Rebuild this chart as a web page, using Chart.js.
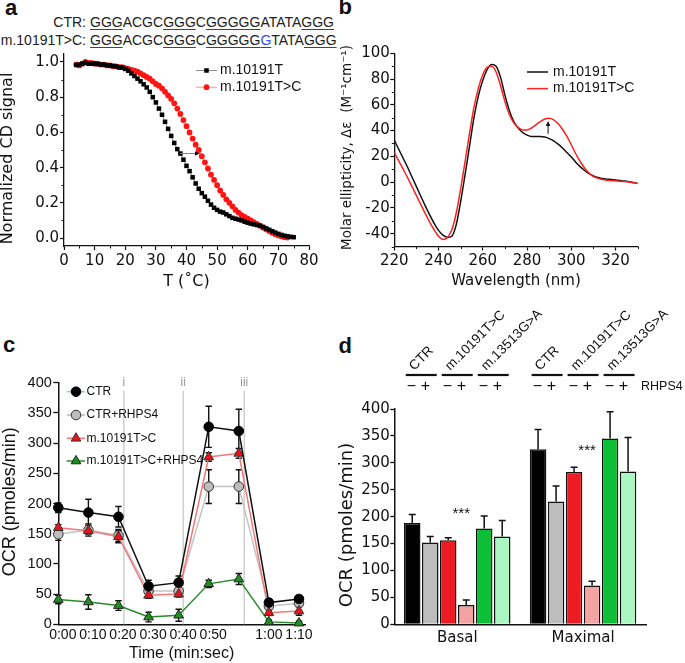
<!DOCTYPE html>
<html><head><meta charset="utf-8">
<script src="https://cdn.jsdelivr.net/npm/chart.js@4.4.1/dist/chart.umd.min.js"></script>
<style>
html,body{margin:0;padding:0;background:#fff;}
body{width:685px;height:663px;position:relative;overflow:hidden;font-family:'Liberation Sans',Arial,sans-serif;color:#111;}
canvas{position:absolute;}
.lbl{position:absolute;font-weight:bold;font-size:22px;line-height:22px;font-family:'Liberation Sans',Arial,sans-serif;}
.seq{position:absolute;font-size:14px;line-height:14px;white-space:nowrap;color:#222;}
.u{text-decoration:underline;text-decoration-thickness:1px;text-underline-offset:1.5px;text-decoration-color:#444;}
.blue{color:#2f4cff;}
</style></head>
<body>
<div class="lbl" style="left:5px;top:-2.6px">a</div>
<div class="lbl" style="left:338.5px;top:-3.6px">b</div>
<div class="lbl" style="left:3px;top:334.4px">c</div>
<div class="lbl" style="left:338.5px;top:334.7px">d</div>
<div class="seq" style="left:0;top:15.4px;width:86px;text-align:right">CTR:</div>
<div class="seq" style="left:90px;top:15.4px"><span class="u">GGG</span>ACGC<span class="u">GGG</span>C<span class="u">GGGGG</span>ATATA<span class="u">GGG</span></div>
<div class="seq" style="left:0;top:33.2px;width:86px;text-align:right">m.10191T&gt;C:</div>
<div class="seq" style="left:90px;top:33.2px"><span class="u">GGG</span>ACGC<span class="u">GGG</span>C<span class="u">GGGGG<span class="blue">G</span></span>TATA<span class="u">GGG</span></div>

<canvas id="ca" width="340" height="250" style="left:0;top:50px"></canvas>
<canvas id="cb" width="345" height="300" style="left:340px;top:0"></canvas>
<canvas id="cc" width="340" height="333" style="left:0;top:330px"></canvas>
<canvas id="cd" width="350" height="363" style="left:335px;top:300px"></canvas>

<script>
// ===== DATA =====
// Panel a: CD melting
const aTempBlack = [4,5,6,7,8,9,10,11,12,13,14,15,16,17,18,19,20,21,22,23,24,25,26,27,28,29,30,31,32,33,34,35,36,37,38,39,40,41,42,43,44,45,46,47,48,49,50,51,52,53,54,55,56,57,58,59,60,61,62,63,64,65,66,67,68,69,70,71,72,73,74,75];
const aSignalBlack = [0.983,0.985,0.99,0.995,0.99,0.99,0.99,0.988,0.985,0.985,
  0.982,0.98,0.977,0.975,0.97,0.967,0.96,0.95,0.935,0.92,
  0.905,0.89,0.873,0.855,0.83,0.80,0.77,0.735,0.70,0.66,
  0.62,0.58,0.54,0.505,0.48,0.445,0.41,0.38,0.345,0.31,
  0.28,0.255,0.235,0.212,0.19,0.172,0.16,0.15,0.145,0.135,
  0.125,0.115,0.11,0.105,0.10,0.093,0.087,0.082,0.078,0.074,
  0.07,0.063,0.055,0.047,0.039,0.031,0.024,0.018,0.013,0.01,
  0.007,0.005];
const aTempRed = [4,5,6,7,8,9,10,11,12,13,14,15,16,17,18,19,20,21,22,23,24,25,26,27,28,29,30,31,32,33,34,35,36,37,38,39,40,41,42,43,44,45,46,47,48,49,50,51,52,53,54,55,56,57,58,59,60,61,62,63,64,65,66,67,68,69,70,71,72,73];
const aSignalRed = [0.985,0.98,0.99,1.0,0.995,0.995,0.99,0.99,0.985,0.985,
  0.98,0.98,0.975,0.975,0.97,0.97,0.965,0.96,0.955,0.95,
  0.945,0.935,0.925,0.915,0.905,0.89,0.875,0.865,0.85,0.83,
  0.81,0.79,0.765,0.735,0.705,0.67,0.635,0.60,0.565,0.53,
  0.50,0.465,0.43,0.395,0.36,0.33,0.30,0.27,0.245,0.22,
  0.20,0.18,0.16,0.145,0.13,0.12,0.11,0.10,0.09,0.08,
  0.07,0.06,0.05,0.04,0.03,0.022,0.015,0.01,0.005,0.003];
const aXTicks = [0,10,20,30,40,50,60,70,80];
const aXMinor = [5,15,25,35,45,55,65,75];
const aYTicks = [0,0.2,0.4,0.6,0.8,1.0];
const aYMinor = [0.1,0.3,0.5,0.7,0.9];
const aArrow = {from:[37.9,0.48], to:[44.4,0.48]};

// Panel b: CD spectra
const bWavelength = [220,222,224,226,228,230,232,234,236,238,240,242,244,246,248,250,252,254,256,258,260,262,264,266,268,270,272,274,276,278,280,282,284,286,288,290,292,294,296,298,300,302,304,306,308,310,312,314,316,318,320,322,324,326,328,330];
const bBlack = [32.5,25.5,18.5,11.5,4,-3.5,-11,-18.5,-25.5,-32,-37.5,-41.2,-43,-42,-33,-15,6,28,50,67,79,87.5,91.3,90,81.5,67.5,55.5,47,42,38.5,36.5,35.5,35.5,35.5,35,33.8,32,29.5,26.5,23,19.5,15.5,12,9,6.5,4.8,3.5,2.8,2.3,2,1.6,1.2,0.8,0.3,-0.3,-1];
const bRed = [23,16.5,10,3.5,-3.5,-10.5,-17.5,-24.5,-31,-37,-42,-44.5,-43,-37,-24,-5,16,38,58,73,83.5,89.3,90,85.5,75,62.5,52.5,46,42.5,40.5,40.5,42,44.5,47,49,49.5,48.3,45.5,41,35.5,29,22,16,11,7,4.3,3,2,1.5,1.1,0.9,0.7,0.4,0,-0.5,-1];
const bXTicks = [220,240,260,280,300,320];
const bXMinor = [230,250,270,290,310,330];
const bYTicks = [-40,-20,0,20,40,60,80,100];
const bYMinor = [-50,-30,-10,10,30,50,70,90];
const bArrow = {from:[289.5,37.5], to:[289.5,47.5]};

// Panel c: OCR time course
const cMeasure = [0,1,2,3,4,5,6,7,8];
const cCTR      = [193,185,178,63,69,327,320,36,42];
const cCTRerr   = [8,22,17,10,11,34,36,5,5];
const cCTRR     = [149,156,147,55,55,228,228,30,35];
const cCTRRerr  = [10,10,10,5,5,28,28,4,5];
const cTC       = [160,155,145,48,50,277,283,19,22];
const cTCerr    = [5,6,10,5,5,7,8,4,7];
const cTCR      = [41,37,31,12,15,67,75,4,2];
const cTCRerr   = [7,12,8,8,10,6,9,3,3];
const cTickPos    = [0.15,1.15,2.15,3.15,4.15,5.15,7,8];
const cTickLabels = ['0:00','0:10','0:20','0:30','0:40','0:50','1:00','1:10'];
const cInject = [2.18,4.15,6.18];
const cInjectLabels = ['i','ii','iii'];

// Panel d: OCR bars
const dGroups = ['Basal','Maximal'];
const dCTRminus = [188,325], dCTRminusErr = [16,37];
const dCTRplus  = [152,228], dCTRplusErr  = [11,29];
const dTCminus  = [156,283], dTCminusErr  = [5,9];
const dTCplus   = [36,72],   dTCplusErr   = [9,8];
const dGAminus  = [178,345], dGAminusErr  = [23,50];
const dGAplus   = [163,284], dGAplusErr   = [30,63];
const dHeaderLabels = ['CTR','m.10191T>C','m.13513G>A'];
const dStarValues = [198,314];

// ===== HELPERS =====
const INK = '#111';
const DJ = 'DejaVu Sans';
const LS = 'Liberation Sans';
function marker(ctx, style, r, x, y, fill, stroke, bw) {
  ctx.save(); ctx.fillStyle = fill; ctx.strokeStyle = stroke; ctx.lineWidth = bw;
  if (Chart.helpers && Chart.helpers.drawPoint) {
    Chart.helpers.drawPoint(ctx, {pointStyle: style, radius: r, rotation: 0, borderWidth: bw}, x, y);
  } else { ctx.beginPath(); ctx.arc(x, y, r, 0, Math.PI*2); ctx.fill(); if (bw) ctx.stroke(); }
  ctx.restore();
}
function textPlugin(id, items) {
  return { id, afterDraw(chart) {
    const ctx = chart.ctx;
    items.forEach(it => {
      ctx.save(); ctx.font = it.font; ctx.fillStyle = it.color || INK;
      ctx.textAlign = it.align || 'center'; ctx.textBaseline = it.baseline || 'middle';
      ctx.translate(it.x, it.y); if (it.rot) ctx.rotate(it.rot);
      ctx.fillText(it.text, 0, 0); ctx.restore();
    });
  }};
}
function minorPlugin(id, xs, ys, len) {
  return { id, afterDraw(chart) {
    const ctx = chart.ctx, sx = chart.scales.x, sy = chart.scales.y;
    ctx.save(); ctx.strokeStyle = INK; ctx.lineWidth = 1;
    xs.forEach(v => { const p = Math.round(sx.getPixelForValue(v)) + 0.5; ctx.beginPath(); ctx.moveTo(p, sx.top); ctx.lineTo(p, sx.top + len); ctx.stroke(); });
    ys.forEach(v => { const p = Math.round(sy.getPixelForValue(v)) + 0.5; ctx.beginPath(); ctx.moveTo(sy.right, p); ctx.lineTo(sy.right - len, p); ctx.stroke(); });
    ctx.restore();
  }};
}
function arrowPlugin(id, arr, color, lw) {
  return { id, afterDatasetsDraw(chart) {
    const ctx = chart.ctx, sx = chart.scales.x, sy = chart.scales.y;
    const x1 = sx.getPixelForValue(arr.from[0]), y1 = sy.getPixelForValue(arr.from[1]);
    const x2 = sx.getPixelForValue(arr.to[0]), y2 = sy.getPixelForValue(arr.to[1]);
    const ang = Math.atan2(y2 - y1, x2 - x1), hl = 5, hw = 2.3;
    ctx.save(); ctx.strokeStyle = color; ctx.fillStyle = INK; ctx.lineWidth = lw;
    ctx.beginPath(); ctx.moveTo(x1, y1); ctx.lineTo(x2 - Math.cos(ang)*hl*0.8, y2 - Math.sin(ang)*hl*0.8); ctx.stroke();
    ctx.beginPath(); ctx.moveTo(x2, y2);
    ctx.lineTo(x2 - Math.cos(ang)*hl - Math.sin(ang)*hw, y2 - Math.sin(ang)*hl + Math.cos(ang)*hw);
    ctx.lineTo(x2 - Math.cos(ang)*hl + Math.sin(ang)*hw, y2 - Math.sin(ang)*hl - Math.cos(ang)*hw);
    ctx.closePath(); ctx.fill(); ctx.restore();
  }};
}
function axisX(o) {
  return Object.assign({
    type: 'linear',
    border: {display: true, color: INK, width: 1.3},
    grid: {display: true, drawOnChartArea: false, drawTicks: true, tickLength: 4, tickColor: INK, tickWidth: 1.2},
    ticks: {color: INK, font: {family: DJ, size: 15, lineHeight: 1}, padding: 2, maxRotation: 0, autoSkip: false}
  }, o);
}
const base = {responsive: false, animation: false, devicePixelRatio: 1, events: [],
  plugins: {legend: {display: false}, tooltip: {enabled: false}}};

// ===== PANEL A =====
new Chart(document.getElementById('ca'), {
  type: 'line',
  data: {datasets: [
    {data: aTempBlack.map((t, i) => ({x: t, y: aSignalBlack[i]})), borderColor: '#8c8c8c', borderWidth: 1,
     pointStyle: 'rect', pointRadius: 3.2, pointBackgroundColor: '#000', pointBorderWidth: 0, clip: false},
    {data: aTempRed.map((t, i) => ({x: t, y: aSignalRed[i]})), borderColor: '#ff9090', borderWidth: 1,
     pointStyle: 'circle', pointRadius: 2.9, pointBackgroundColor: '#ff1414', pointBorderWidth: 0, clip: false}
  ]},
  options: Object.assign({}, base, {
    layout: {padding: {left: 0, right: 31, top: 3, bottom: 0}},
    scales: {
      x: axisX({min: 0, max: 80,
        afterBuildTicks: s => { s.ticks = aXTicks.map(v => ({value: v})); },
        afterFit: s => { s.height = 54; s.paddingLeft = 0; s.paddingRight = 0; },
        ticks: {color: INK, font: {family: DJ, size: 15, lineHeight: 1}, padding: 3.5, maxRotation: 0, autoSkip: false},
        title: {display: true, text: 'T (˚C)', color: INK, font: {family: DJ, size: 16, lineHeight: 1}, padding: {top: 0, bottom: 10}}}),
      y: axisX({min: -0.045, max: 1.045,
        afterBuildTicks: s => { s.ticks = aYTicks.map(v => ({value: v})); },
        afterFit: s => { s.width = 64; s.paddingTop = 0; s.paddingBottom = 0; },
        ticks: {color: INK, font: {family: DJ, size: 15, lineHeight: 1}, padding: 1, callback: v => v.toFixed(1)}})
    }
  }),
  plugins: [
    minorPlugin('aMinor', aXMinor, aYMinor, 2.5),
    arrowPlugin('aArrow', aArrow, '#808080', 1),
    textPlugin('aText', [
      {text: 'Normalized CD signal', font: `16px "${DJ}"`, x: 8, y: 108.5, rot: -Math.PI/2},
      {text: 'm.10191T', font: `14px "${LS}"`, x: 220, y: 20, align: 'left'},
      {text: 'm.10191T>C', font: `14px "${LS}"`, x: 220, y: 36.7, align: 'left'}
    ]),
    {id: 'aLegend', afterDraw(chart) {
      const ctx = chart.ctx;
      ctx.save(); ctx.lineWidth = 1;
      ctx.strokeStyle = '#8c8c8c'; ctx.beginPath(); ctx.moveTo(196, 20.5); ctx.lineTo(217, 20.5); ctx.stroke();
      ctx.strokeStyle = '#ff9090'; ctx.beginPath(); ctx.moveTo(196, 37.2); ctx.lineTo(217, 37.2); ctx.stroke();
      ctx.restore();
      marker(ctx, 'rect', 3.2, 206.5, 20.5, '#000', '#000', 0);
      marker(ctx, 'circle', 2.9, 206.5, 37.2, '#ff1414', '#ff1414', 0);
    }}
  ]
});

// ===== PANEL B =====
new Chart(document.getElementById('cb'), {
  type: 'line',
  data: {datasets: [
    {data: bWavelength.map((w, i) => ({x: w, y: bRed[i]})), borderColor: '#ff2020', borderWidth: 1.5, pointRadius: 0, cubicInterpolationMode: 'monotone'},
    {data: bWavelength.map((w, i) => ({x: w, y: bBlack[i]})), borderColor: '#111', borderWidth: 1.5, pointRadius: 0, cubicInterpolationMode: 'monotone'}
  ]},
  options: Object.assign({}, base, {
    layout: {padding: {left: 0, right: 345 - 297.7, top: 53.3, bottom: 0}},
    scales: {
      x: axisX({min: 220, max: 330,
        afterBuildTicks: s => { s.ticks = bXTicks.map(v => ({value: v})); },
        afterFit: s => { s.height = 300 - 246.5; s.paddingLeft = 0; s.paddingRight = 0; },
        ticks: {color: INK, font: {family: DJ, size: 15, lineHeight: 1}, padding: 3, maxRotation: 0, autoSkip: false},
        title: {display: true, text: 'Wavelength (nm)', color: INK, font: {family: DJ, size: 15, lineHeight: 1}, padding: {top: 0, bottom: 11}}}),
      y: axisX({min: -50, max: 100,
        afterBuildTicks: s => { s.ticks = bYTicks.map(v => ({value: v})); },
        afterFit: s => { s.width = 54.3; s.paddingTop = 0; s.paddingBottom = 0; },
        ticks: {color: INK, font: {family: DJ, size: 15, lineHeight: 1}, padding: 0.5}})
    }
  }),
  plugins: [
    minorPlugin('bMinor', bXMinor, bYMinor, 2.5),
    arrowPlugin('bArrow', bArrow, '#111', 1),
    textPlugin('bText', [
      {text: 'Molar ellipticity, Δε  (M⁻¹cm⁻¹)', font: `13.5px "${DJ}"`, x: 7.5, y: 147.5, rot: -Math.PI/2},
      {text: 'm.10191T', font: `14px "${LS}"`, x: 213, y: 71.7, align: 'left'},
      {text: 'm.10191T>C', font: `14px "${LS}"`, x: 213, y: 88.3, align: 'left'}
    ]),
    {id: 'bLegend', afterDraw(chart) {
      const ctx = chart.ctx; ctx.save(); ctx.lineWidth = 1.5;
      ctx.strokeStyle = '#111'; ctx.beginPath(); ctx.moveTo(187, 72); ctx.lineTo(208, 72); ctx.stroke();
      ctx.strokeStyle = '#ff2020'; ctx.beginPath(); ctx.moveTo(187, 88.6); ctx.lineTo(208, 88.6); ctx.stroke();
      ctx.restore();
    }}
  ]
});

// ===== PANEL C =====
const cSeries = [
  {name: 'CTR', vals: cCTR, err: cCTRerr, line: '#111', legLine: '#9cc3e5', style: 'circle', r: 4.8, fill: '#000', stroke: '#000'},
  {name: 'm.10191T>C', vals: cTC, err: cTCerr, line: '#f07878', legLine: '#f07878', style: 'triangle', r: 5.6, fill: '#e8141c', stroke: '#333'},
  {name: 'CTR+RHPS4', vals: cCTRR, err: cCTRRerr, line: '#c4c4c4', legLine: '#bdbdbd', style: 'circle', r: 4.8, fill: '#bdbdbd', stroke: '#333'},
  {name: 'm.10191T>C+RHPS4', vals: cTCR, err: cTCRerr, line: '#2a8a2a', legLine: '#2a8a2a', style: 'triangle', r: 5.6, fill: '#1f8f1f', stroke: '#222'}
];
new Chart(document.getElementById('cc'), {
  type: 'line',
  data: {datasets: cSeries.map(s => ({
    data: s.vals.map((v, i) => ({x: cMeasure[i], y: v})), borderColor: s.line, borderWidth: 1.5,
    pointStyle: s.style, pointRadius: s.r, pointBackgroundColor: s.fill, pointBorderColor: s.stroke, pointBorderWidth: 1, clip: false}))},
  options: Object.assign({}, base, {
    layout: {padding: {left: 0, right: 35, top: 52.7, bottom: 0}},
    scales: {
      x: {type: 'linear', min: 0, max: 8.2,
        afterBuildTicks: s => { s.ticks = cTickPos.map(v => ({value: v})); },
        afterFit: s => { s.height = 333 - 294.3; s.paddingLeft = 0; s.paddingRight = 0; },
        border: {display: true, color: INK, width: 1.5},
        grid: {display: true, drawOnChartArea: false, drawTicks: false},
        ticks: {color: INK, font: {family: LS, size: 14, lineHeight: 1}, padding: 3.7, maxRotation: 0, autoSkip: false,
          callback: (v, i) => cTickLabels[i]},
        title: {display: true, text: 'Time (min:sec)', color: INK, font: {family: LS, size: 16, lineHeight: 1}, padding: {top: 0, bottom: 1.7}}},
      y: {type: 'linear', min: 0, max: 400,
        afterFit: s => { s.width = 58.3; s.paddingTop = 0; s.paddingBottom = 0; },
        border: {display: true, color: INK, width: 1.5},
        grid: {display: true, drawOnChartArea: false, drawTicks: true, tickLength: 5, tickColor: INK, tickWidth: 1.3},
        ticks: {stepSize: 50, color: INK, font: {family: LS, size: 14.5, lineHeight: 1}, padding: 1.5}}
    }
  }),
  plugins: [
    {id: 'cInject', beforeDatasetsDraw(chart) {
      const ctx = chart.ctx, sx = chart.scales.x, a = chart.chartArea;
      ctx.save(); ctx.strokeStyle = '#c8c8c8'; ctx.lineWidth = 1.3;
      ctx.fillStyle = '#999'; ctx.font = `12px "${LS}"`; ctx.textAlign = 'center'; ctx.textBaseline = 'middle';
      cInject.forEach((v, k) => {
        const p = sx.getPixelForValue(v);
        ctx.beginPath(); ctx.moveTo(p, a.top + 8); ctx.lineTo(p, a.bottom); ctx.stroke();
        ctx.fillText(cInjectLabels[k], p, a.top);
      });
      ctx.restore();
    }},
    {id: 'cErr', beforeDatasetsDraw(chart) {
      const ctx = chart.ctx, sy = chart.scales.y;
      ctx.save(); ctx.strokeStyle = INK; ctx.lineWidth = 1.4;
      cSeries.forEach((s, di) => {
        const meta = chart.getDatasetMeta(di);
        s.err.forEach((e, j) => {
          const x = meta.data[j].x, y1 = sy.getPixelForValue(s.vals[j] + e), y2 = sy.getPixelForValue(s.vals[j] - e);
          ctx.beginPath(); ctx.moveTo(x, y1); ctx.lineTo(x, y2);
          ctx.moveTo(x - 3.2, y1); ctx.lineTo(x + 3.2, y1); ctx.moveTo(x - 3.2, y2); ctx.lineTo(x + 3.2, y2); ctx.stroke();
        });
      });
      ctx.restore();
    }},
    {id: 'cLegend', afterDraw(chart) {
      const ctx = chart.ctx;
      const order = [0, 2, 1, 3], ys = [61.7, 85, 108.3, 131];
      order.forEach((si, k) => {
        const s = cSeries[si], y = ys[k];
        ctx.save(); ctx.strokeStyle = s.legLine; ctx.lineWidth = 1.5;
        ctx.beginPath(); ctx.moveTo(66.7, y); ctx.lineTo(85, y); ctx.stroke(); ctx.restore();
        marker(ctx, s.style, s.r, 76, y, s.fill, s.stroke, 1);
        ctx.save(); ctx.fillStyle = INK; ctx.font = `12px "${LS}"`; ctx.textAlign = 'left'; ctx.textBaseline = 'middle';
        ctx.fillText(s.name, 86.5, y); ctx.restore();
      });
    }},
    textPlugin('cText', [
      {text: 'OCR (pmoles/min)', font: `18px "${LS}"`, x: 10, y: 171.7, rot: -Math.PI/2}
    ])
  ]
});

// ===== PANEL D =====
const dSeries = [
  {vals: dCTRminus, err: dCTRminusErr, color: '#000000'},
  {vals: dCTRplus,  err: dCTRplusErr,  color: '#bdbdbd'},
  {vals: dTCminus,  err: dTCminusErr,  color: '#ed1c24'},
  {vals: dTCplus,   err: dTCplusErr,   color: '#f4a3a3'},
  {vals: dGAminus,  err: dGAminusErr,  color: '#0cbf36'},
  {vals: dGAplus,   err: dGAplusErr,   color: '#aaf7c2'}
];
new Chart(document.getElementById('cd'), {
  type: 'bar',
  data: {labels: dGroups, datasets: dSeries.map(s => ({data: s.vals, backgroundColor: s.color, borderColor: INK, borderWidth: 1.5,
    categoryPercentage: 0.858, barPercentage: 0.917}))},
  options: Object.assign({}, base, {
    layout: {padding: {left: 0, right: 39, top: 109, bottom: 0}},
    scales: {
      x: {type: 'category',
        afterFit: s => { s.height = 363 - 324.3; s.paddingLeft = 0; s.paddingRight = 0; },
        border: {display: true, color: INK, width: 1.5},
        grid: {display: true, drawOnChartArea: false, drawTicks: false},
        ticks: {color: INK, font: {family: DJ, size: 15, lineHeight: 1}, padding: 6, maxRotation: 0}},
      y: {type: 'linear', min: 0, max: 400,
        afterFit: s => { s.width = 59.3; s.paddingTop = 0; s.paddingBottom = 0; },
        border: {display: true, color: INK, width: 1.5},
        grid: {display: true, drawOnChartArea: false, drawTicks: true, tickLength: 4, tickColor: INK, tickWidth: 1.3},
        ticks: {stepSize: 50, color: INK, font: {family: DJ, size: 15, lineHeight: 1}, padding: 0.5}}
    }
  }),
  plugins: [
    {id: 'dErr', afterDatasetsDraw(chart) {
      const ctx = chart.ctx, sy = chart.scales.y;
      ctx.save(); ctx.strokeStyle = INK; ctx.lineWidth = 1.5;
      dSeries.forEach((s, di) => {
        const meta = chart.getDatasetMeta(di);
        s.err.forEach((e, j) => {
          const el = meta.data[j], x = el.x, yt = sy.getPixelForValue(s.vals[j]), ye = sy.getPixelForValue(s.vals[j] + e);
          ctx.beginPath(); ctx.moveTo(x, yt); ctx.lineTo(x, ye); ctx.moveTo(x - 3.5, ye); ctx.lineTo(x + 3.5, ye); ctx.stroke();
        });
      });
      // significance stars
      ctx.fillStyle = INK; ctx.font = `15px "${LS}"`; ctx.textAlign = 'center'; ctx.textBaseline = 'alphabetic';
      dStarValues.forEach((v, j) => {
        const el = chart.getDatasetMeta(3).data[j];
        ctx.fillText('***', el.x - 5, sy.getPixelForValue(v));
      });
      ctx.restore();
    }},
    {id: 'dHeader', afterDraw(chart) {
      const ctx = chart.ctx;
      ctx.save(); ctx.strokeStyle = INK; ctx.fillStyle = INK; ctx.lineWidth = 2.2;
      let lastMid = 0;
      for (let c = 0; c < dGroups.length; c++) {
        for (let k = 0; k < 3; k++) {
          const a = chart.getDatasetMeta(2*k).data[c].x, b = chart.getDatasetMeta(2*k + 1).data[c].x;
          const mid = (a + b) / 2; lastMid = mid;
          ctx.beginPath(); ctx.moveTo(mid - 15.5, 75); ctx.lineTo(mid + 15.5, 75); ctx.stroke();
          ctx.font = `16px "${LS}"`; ctx.textAlign = 'center'; ctx.textBaseline = 'middle';
          ctx.fillText('−', mid - 9.7, 86.2); ctx.fillText('+', mid + 4.3, 86.2);
          ctx.save(); ctx.translate(mid - 7, 71); ctx.rotate(-Math.PI/4);
          ctx.font = `13.5px "${LS}"`; ctx.textAlign = 'left'; ctx.textBaseline = 'alphabetic';
          ctx.fillText(dHeaderLabels[k], 0, 0); ctx.restore();
        }
      }
      ctx.font = `12.5px "${LS}"`; ctx.textAlign = 'left'; ctx.textBaseline = 'middle';
      ctx.fillText('RHPS4', lastMid + 22, 86.7);
      ctx.restore();
    }},
    textPlugin('dText', [
      {text: 'OCR (pmoles/min)', font: `18px "${DJ}"`, x: 12.5, y: 225, rot: -Math.PI/2}
    ])
  ]
});
</script>
</body></html>
